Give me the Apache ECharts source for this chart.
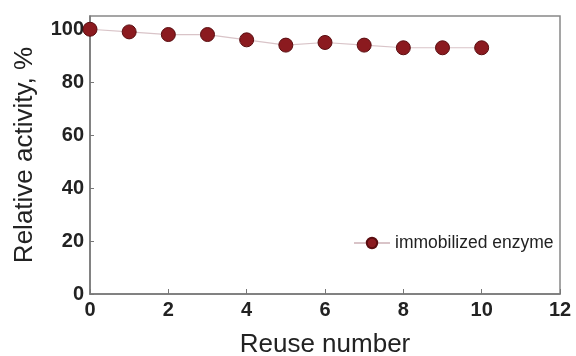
<!DOCTYPE html>
<html><head><meta charset="utf-8">
<script src="https://cdn.jsdelivr.net/npm/echarts@6/dist/echarts.min.js"></script>
<style>html,body{margin:0;padding:0;background:#fff}#c{width:576px;height:356px}</style>
</head><body><div id="c"></div>
<script>
var reuseNumber = [0, 1, 2, 3, 4, 5, 6, 7, 8, 9, 10];
var relativeActivity = [100, 99, 98, 98, 96, 94, 95, 94, 93, 93, 93];
var xTicks = [0, 2, 4, 6, 8, 10, 12];
var yTicks = [0, 20, 40, 60, 80, 100];
var seriesName = 'immobilized enzyme';

var data = reuseNumber.map(function (x, i) { return [x, relativeActivity[i]]; });
var chart = echarts.init(document.getElementById('c'));
var labelFont = { fontFamily: 'Liberation Sans, Arial, sans-serif', fontSize: 20, fontWeight: 'bold', color: '#222' };
chart.setOption({
  animation: false,
  grid: { left: 90, right: 16, top: 16, bottom: 62, containLabel: false, outerBoundsMode: 'none', show: true, borderColor: '#888', borderWidth: 1.5, backgroundColor: '#fff' },
  legend: {
    data: [seriesName], left: 348, top: 229, itemWidth: 36, itemHeight: 13, itemGap: 4,
    textStyle: { fontFamily: 'Liberation Sans, Arial, sans-serif', fontSize: 17.5, color: '#222' }
  },
  xAxis: {
    type: 'value', min: 0, max: 12, interval: 2,
    name: 'Reuse number', nameLocation: 'middle', nameGap: 38,
    nameTextStyle: { fontFamily: 'Liberation Sans, Arial, sans-serif', fontSize: 26, color: '#222' },
    axisLine: { show: true, lineStyle: { color: '#777', width: 1.5 } },
    axisTick: { show: true, inside: true, length: 5, lineStyle: { color: '#777' } },
    axisLabel: Object.assign({ margin: 6 }, labelFont),
    splitLine: { show: false }
  },
  yAxis: {
    type: 'value', min: 0, max: 105,
    name: 'Relative activity, %', nameLocation: 'middle', nameGap: 52,
    nameTextStyle: { fontFamily: 'Liberation Sans, Arial, sans-serif', fontSize: 26, color: '#222' },
    axisLine: { show: true, lineStyle: { color: '#777', width: 1.5 } },
    axisTick: { show: true, inside: true, length: 4, customValues: yTicks, lineStyle: { color: '#777' } },
    axisLabel: Object.assign({ margin: 6, customValues: yTicks }, labelFont),
    splitLine: { show: false }
  },
  series: [{
    name: seriesName, type: 'line', data: data,
    symbol: 'circle', symbolSize: 14,
    lineStyle: { color: '#d9c4c8', width: 1.2 },
    itemStyle: { color: '#8b1a1f', borderColor: '#5a0d10', borderWidth: 1 }
  }]
});
</script></body></html>
